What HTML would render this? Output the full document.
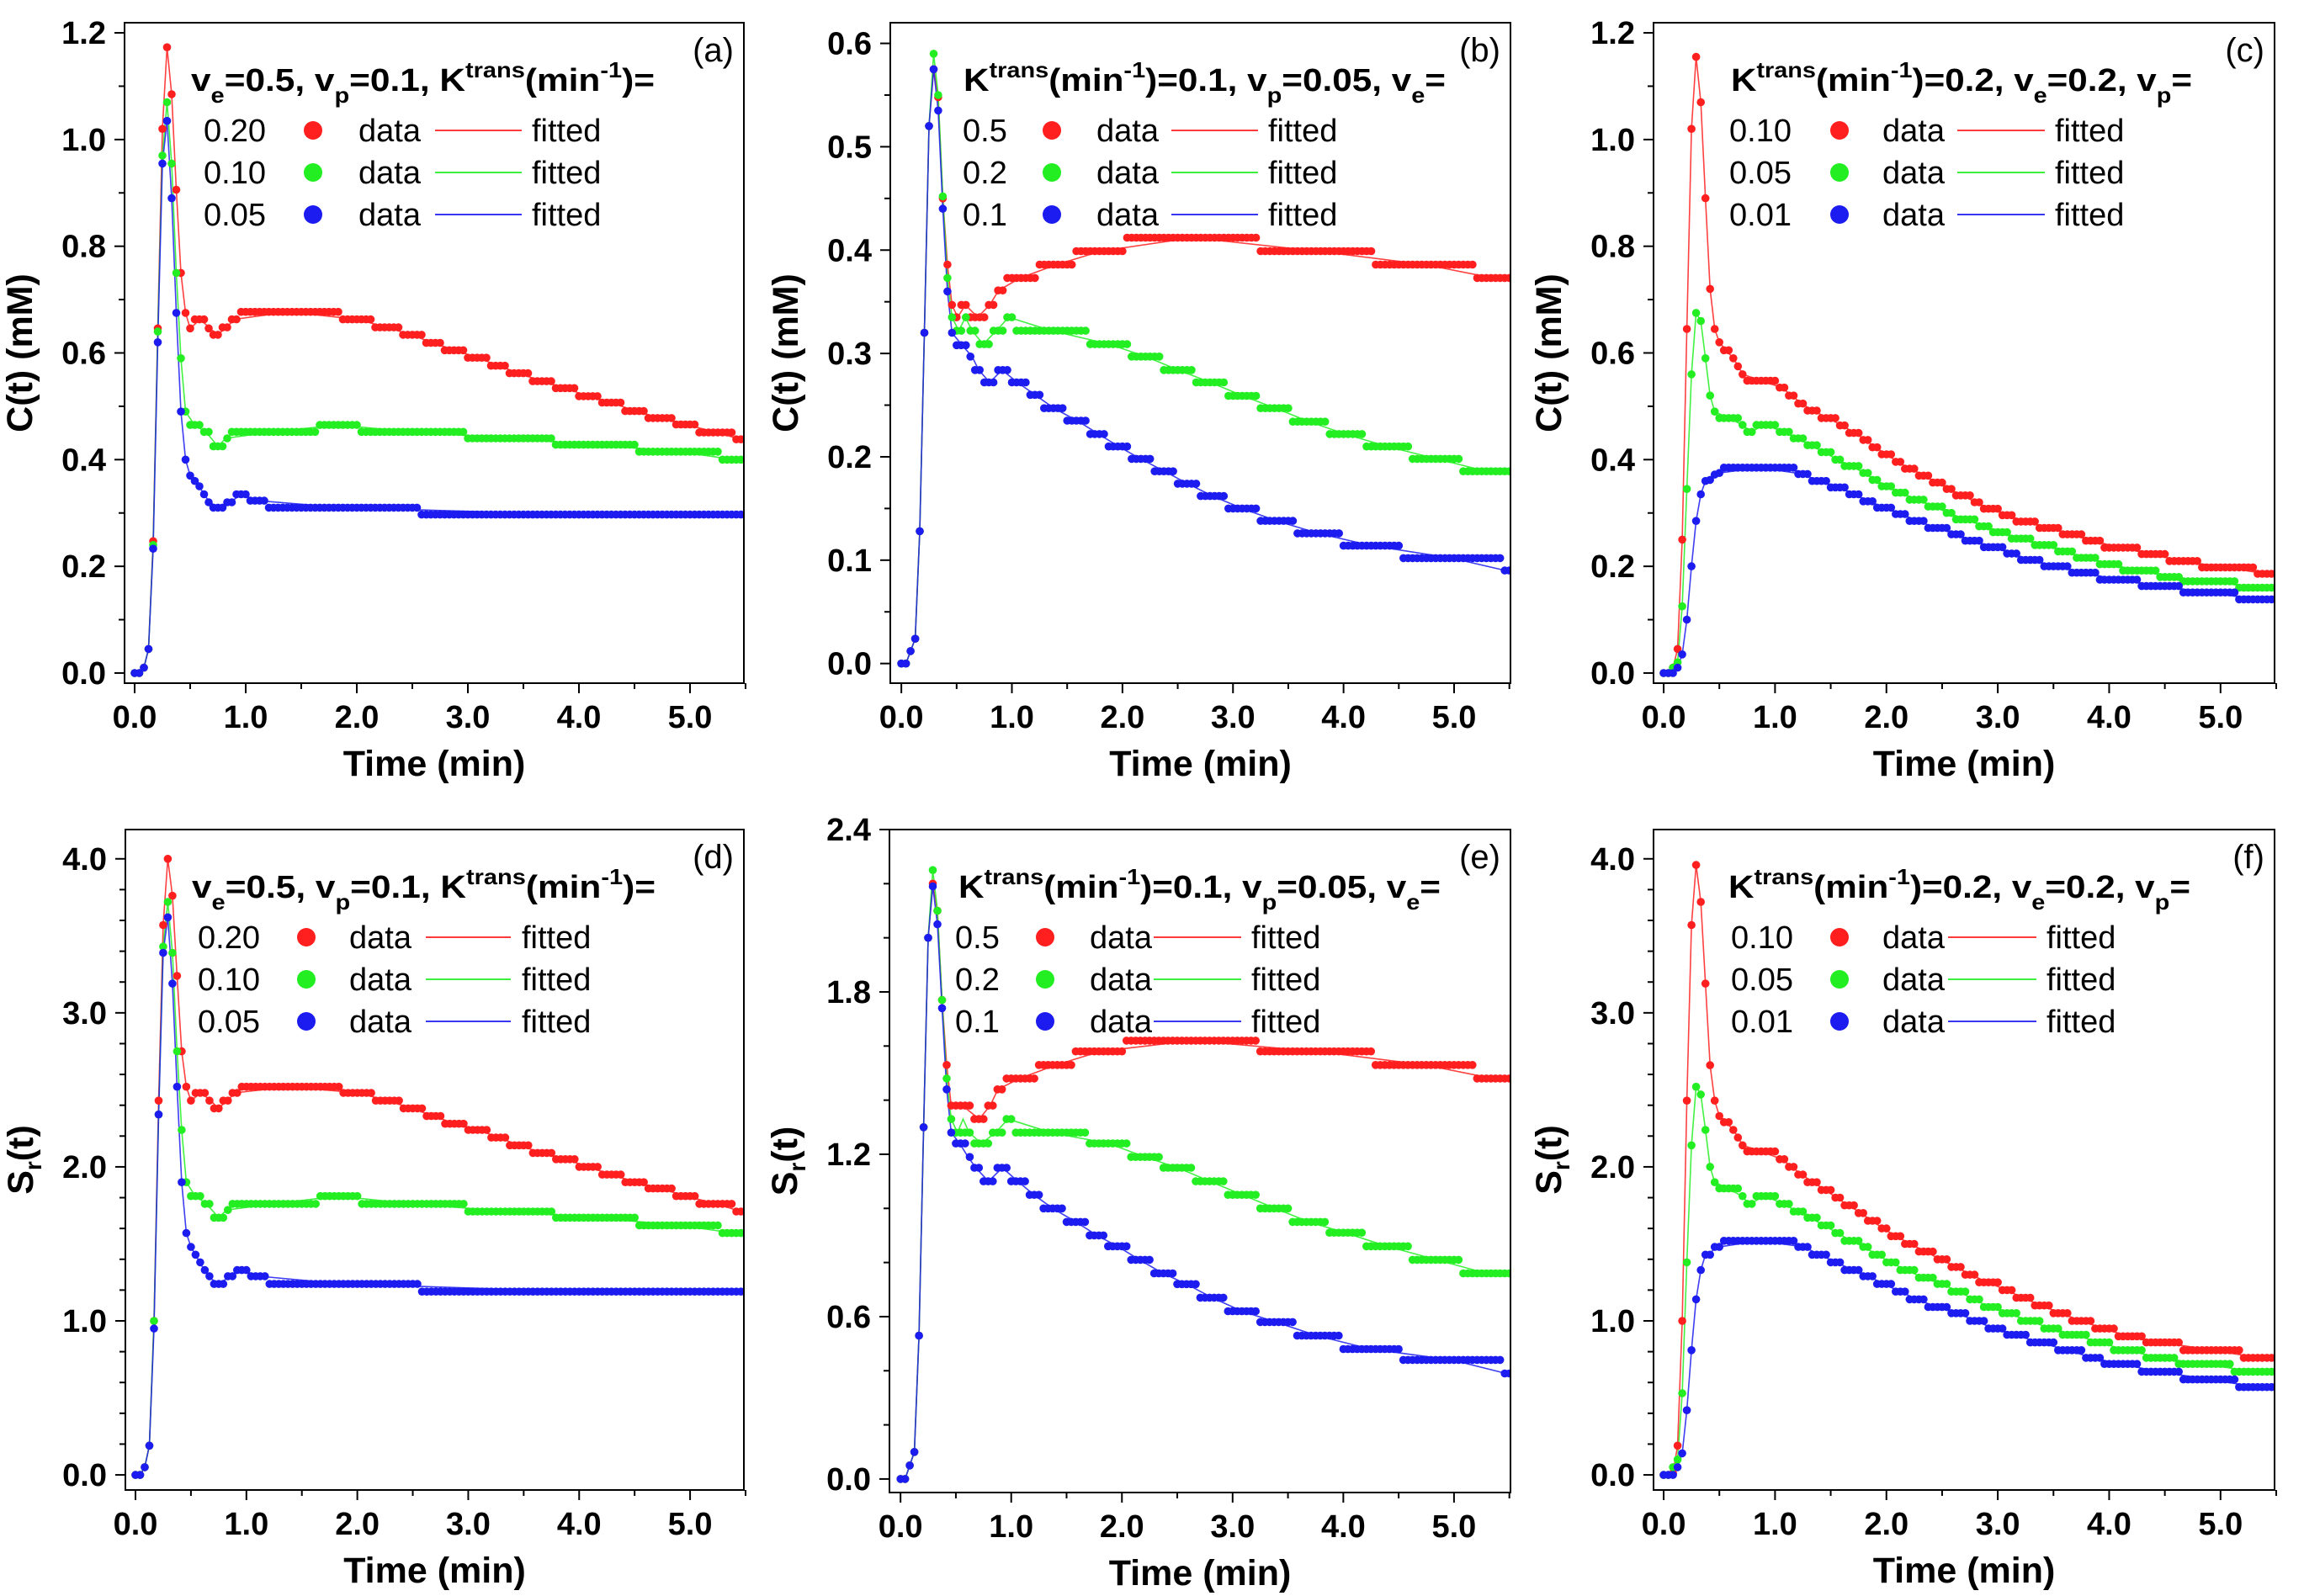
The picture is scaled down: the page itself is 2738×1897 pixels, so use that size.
<!DOCTYPE html>
<html><head><meta charset="utf-8"><style>
html,body{margin:0;padding:0;background:#fff}
svg{display:block}
text{font-family:"Liberation Sans",Arial,sans-serif}
</style></head><body>
<svg id="fig" xmlns="http://www.w3.org/2000/svg" width="2738" height="1897" viewBox="0 0 2738 1897"></svg>
<script>
const NS="http://www.w3.org/2000/svg";
const svg=document.getElementById('fig');
const DT=1/24, TMAX=5.5;
// ---------- data (early samples at t=i/24, then plateau steps [value,endTime]) ----------
const aRedEarly=[0,0,.01,.045,.247,.646,1.02,1.173,1.085,.906,.75,.675,.646];
const aRedSteps=[[.663,.66],[.646,.7],[.634,.79],[.648,.87],[.663,.92],[.677,1.86],[.663,2.15],[.648,2.39],[.634,2.59],[.619,2.78],[.605,2.99],[.591,3.19],[.576,3.36],[.562,3.56],[.547,3.77],[.534,3.98],[.519,4.18],[.507,4.4],[.491,4.62],[.478,4.85],[.466,5.07],[.451,5.41],[.438,5.6]];
const aGreenEarly=[0,0,.01,.045,.24,.64,.97,1.07,.955,.75,.59,.49];
const aGreenSteps=[[.465,.6],[.452,.68],[.44,.7],[.425,.8],[.44,.84],[.452,1.64],[.465,2.02],[.452,2.97],[.44,3.76],[.428,4.52],[.415,5.29],[.40,5.6]];
const aBlueEarly=[0,0,.01,.045,.233,.62,.955,1.035,.89,.675,.49,.40,.37];
const aBlueSteps=[[.36,.56],[.35,.6],[.335,.65],[.32,.7],[.31,.82],[.32,.9],[.335,1.02],[.323,1.2],[.31,2.55],[.297,5.6]];

const bRedEarly=[0,0,.012,.024,.128,.32,.52,.575,.548,.45,.386,.347];
const bRedSteps=[[.335,.54],[.347,.62],[.335,.76],[.347,.84],[.361,.92],[.373,1.23],[.386,1.58],[.399,2.03],[.412,3.24],[.399,4.28],[.386,5.2],[.373,5.6]];
const bGreenEarly=[0,0,.012,.024,.128,.32,.52,.59,.55,.452,.373,.335];
const bGreenSteps=[[.322,.56],[.335,.6],[.322,.68],[.309,.8],[.322,.92],[.335,1.02],[.322,1.70],[.309,2.06],[.297,2.36],[.284,2.65],[.272,2.94],[.259,3.24],[.247,3.53],[.234,3.85],[.222,4.18],[.21,4.61],[.198,5.08],[.186,5.6]];
const bBlueEarly=[0,0,.012,.024,.128,.32,.52,.575,.535,.44,.36,.32];
const bBlueSteps=[[.308,.62],[.297,.66],[.284,.74],[.272,.86],[.284,.96],[.272,1.14],[.26,1.28],[.247,1.48],[.235,1.7],[.222,1.87],[.21,2.06],[.198,2.27],[.186,2.49],[.174,2.69],[.162,2.94],[.15,3.23],[.138,3.56],[.126,3.98],[.114,4.53],[.102,5.43],[.09,5.6]];

const cRedEarly=[0,0,.01,.045,.25,.645,1.02,1.155,1.07,.89,.72,.645,.62];
const cRedSteps=[[.605,.6],[.59,.65],[.575,.69],[.56,.73],[.548,1.02],[.535,1.1],[.52,1.2],[.505,1.28],[.492,1.4],[.478,1.55],[.464,1.65],[.45,1.78],[.437,1.85],[.423,1.95],[.41,2.05],[.396,2.15],[.383,2.28],[.37,2.4],[.357,2.5],[.345,2.62],[.333,2.75],[.32,2.85],[.308,3.02],[.296,3.15],[.284,3.35],[.272,3.55],[.26,3.75],[.248,3.95],[.235,4.25],[.223,4.5],[.21,4.8],[.198,5.3],[.186,5.6]];
const cGreenEarly=[0,0,.01,.02,.125,.345,.56,.675,.66,.59,.52,.49];
const cGreenSteps=[[.478,.68],[.465,.74],[.452,.82],[.465,1.0],[.452,1.15],[.44,1.25],[.427,1.38],[.414,1.5],[.40,1.62],[.388,1.75],[.375,1.85],[.362,1.95],[.35,2.05],[.338,2.2],[.325,2.35],[.312,2.5],[.30,2.62],[.288,2.8],[.275,2.95],[.264,3.1],[.252,3.3],[.24,3.5],[.228,3.7],[.216,3.9],[.204,4.1],[.192,4.45],[.18,4.65],[.172,5.15],[.16,5.6]];
const cBlueEarly=[0,0,0,.01,.035,.1,.2,.285,.335,.36,.362,.372,.375];
const cBlueSteps=[[.385,1.2],[.373,1.3],[.36,1.48],[.348,1.65],[.335,1.78],[.322,1.9],[.31,2.08],[.298,2.2],[.285,2.35],[.272,2.55],[.26,2.7],[.248,2.85],[.236,3.05],[.224,3.2],[.212,3.4],[.2,3.65],[.188,3.9],[.175,4.25],[.163,4.65],[.151,5.15],[.138,5.6]];

const dRedEarly=[0,0,.05,.19,1.0,2.43,3.57,4.0,3.76,3.24,2.75,2.52,2.43];
const dRedSteps=[[2.48,.66],[2.43,.7],[2.38,.79],[2.43,.87],[2.48,.92],[2.52,1.86],[2.48,2.15],[2.43,2.39],[2.38,2.59],[2.33,2.78],[2.28,2.99],[2.24,3.19],[2.19,3.36],[2.14,3.56],[2.09,3.77],[2.05,3.98],[2.0,4.18],[1.95,4.4],[1.9,4.62],[1.86,4.85],[1.81,5.07],[1.76,5.41],[1.71,5.6]];
const dGreenEarly=[0,0,.05,.19,1.0,2.34,3.43,3.72,3.39,2.75,2.24,1.9];
const dGreenSteps=[[1.81,.6],[1.76,.68],[1.72,.7],[1.67,.8],[1.72,.84],[1.76,1.64],[1.81,2.02],[1.76,2.97],[1.71,3.76],[1.67,4.52],[1.62,5.29],[1.57,5.6]];
const dBlueEarly=[0,0,.05,.19,.95,2.34,3.39,3.62,3.19,2.52,1.9,1.57,1.48];
const dBlueSteps=[[1.43,.56],[1.38,.6],[1.33,.64],[1.29,.67],[1.24,.82],[1.29,.9],[1.33,1.02],[1.29,1.2],[1.24,2.55],[1.19,5.6]];

const eRedEarly=[0,0,.05,.1,.53,1.3,2.0,2.2,2.1,1.77,1.53,1.38];
const eRedSteps=[[1.38,.64],[1.33,.78],[1.38,.84],[1.44,.92],[1.48,1.23],[1.53,1.58],[1.58,2.03],[1.62,3.24],[1.58,4.28],[1.53,5.2],[1.48,5.6]];
const eGreenEarly=[0,0,.05,.1,.53,1.3,2.0,2.25,2.1,1.77,1.48,1.33];
const eGreenSteps=[[1.28,.55],[1.33,.58],[1.28,.66],[1.24,.8],[1.28,.92],[1.33,1.02],[1.28,1.70],[1.24,2.06],[1.19,2.36],[1.15,2.65],[1.1,2.94],[1.05,3.24],[1.0,3.53],[.95,3.85],[.91,4.18],[.86,4.61],[.81,5.08],[.76,5.6]];
const eBlueEarly=[0,0,.05,.1,.53,1.3,2.0,2.19,2.05,1.74,1.44,1.28];
const eBlueSteps=[[1.24,.59],[1.19,.63],[1.15,.73],[1.10,.86],[1.15,.98],[1.10,1.14],[1.05,1.27],[1.0,1.48],[.95,1.69],[.90,1.86],[.86,2.06],[.81,2.26],[.76,2.48],[.72,2.69],[.67,2.94],[.62,3.23],[.58,3.55],[.53,3.97],[.48,4.52],[.44,5.44],[.39,5.6]];

const fRedEarly=[0,0,.01,.19,1.0,2.43,3.57,3.96,3.72,3.19,2.66,2.43,2.33];
const fRedSteps=[[2.29,.6],[2.24,.65],[2.19,.69],[2.14,.73],[2.1,1.02],[2.05,1.1],[2.0,1.2],[1.95,1.28],[1.9,1.4],[1.85,1.5],[1.8,1.6],[1.75,1.72],[1.7,1.82],[1.65,1.92],[1.6,2.02],[1.55,2.15],[1.5,2.28],[1.45,2.42],[1.4,2.55],[1.35,2.7],[1.3,2.82],[1.25,3.0],[1.2,3.15],[1.15,3.3],[1.1,3.48],[1.05,3.65],[1.0,3.85],[.95,4.05],[.9,4.3],[.86,4.65],[.81,5.2],[.76,5.6]];
const fGreenEarly=[0,0,.05,.1,.53,1.38,2.14,2.52,2.47,2.24,2.0,1.9];
const fGreenSteps=[[1.86,.68],[1.81,.72],[1.76,.82],[1.81,1.0],[1.76,1.15],[1.71,1.25],[1.67,1.38],[1.62,1.5],[1.57,1.62],[1.52,1.75],[1.48,1.85],[1.43,1.98],[1.38,2.1],[1.33,2.25],[1.28,2.42],[1.24,2.58],[1.19,2.72],[1.14,2.85],[1.09,3.0],[1.05,3.18],[1.0,3.38],[.95,3.58],[.91,3.8],[.86,4.02],[.81,4.3],[.76,4.6],[.72,5.1],[.67,5.6]];
const fBlueEarly=[0,0,0,.05,.14,.42,.81,1.14,1.33,1.43,1.43,1.48,1.48];
const fBlueSteps=[[1.52,1.2],[1.48,1.32],[1.43,1.48],[1.38,1.62],[1.33,1.78],[1.29,1.9],[1.24,2.05],[1.19,2.2],[1.14,2.35],[1.09,2.55],[1.05,2.72],[1.0,2.88],[.95,3.05],[.91,3.25],[.86,3.5],[.81,3.75],[.76,3.95],[.72,4.25],[.67,4.65],[.62,5.15],[.57,5.6]];

const xTicks=[0,1,2,3,4,5];
const xTickLabels=["0.0","1.0","2.0","3.0","4.0","5.0"];
const legA=["0.20","0.10","0.05"], legB=["0.5","0.2","0.1"], legC=["0.10","0.05","0.01"];
const COLORS=["#ff1f1f","#22ee22","#1c1cf0"];

function el(tag,attrs,parent){const e=document.createElementNS(NS,tag);for(const k in attrs)e.setAttribute(k,attrs[k]);(parent||svg).appendChild(e);return e;}

const panels=[
 {id:'a',L:148,T:27,R:884,B:812,x0:-0.091,x1:5.485,y0:-0.019,y1:1.219,yMaj:.2,yMin:.1,yMax:1.2,ylab:'C',series:[[aRedEarly,aRedSteps],[aGreenEarly,aGreenSteps],[aBlueEarly,aBlueSteps]],leg:legA,title:1,tw:551,lt:{tx:79,num:94,dot:224,data:278,l1:369,l2:472,fit:484}},
 {id:'b',L:1058,T:27,R:1795,B:812,x0:-0.1,x1:5.51,y0:-0.019,y1:0.62,yMaj:.1,yMin:.05,yMax:.6,ylab:'C',series:[[bRedEarly,bRedSteps],[bGreenEarly,bGreenSteps],[bBlueEarly,bBlueSteps]],leg:legB,title:2,tw:573,lt:{tx:87,num:86,dot:192,data:245,l1:334,l2:437,fit:449}},
 {id:'c',L:1965,T:27,R:2703,B:812,x0:-0.091,x1:5.485,y0:-0.019,y1:1.219,yMaj:.2,yMin:.1,yMax:1.2,ylab:'C',series:[[cRedEarly,cRedSteps],[cGreenEarly,cGreenSteps],[cBlueEarly,cBlueSteps]],leg:legC,title:3,tw:548,lt:{tx:92,num:90,dot:221,data:272,l1:361,l2:465,fit:477}},
 {id:'d',L:149,T:986,R:884,B:1771,x0:-0.091,x1:5.485,y0:-0.098,y1:4.19,yMaj:1,yMin:.2,yMax:4,ylab:'S',series:[[dRedEarly,dRedSteps],[dGreenEarly,dGreenSteps],[dBlueEarly,dBlueSteps]],leg:legA,title:1,tw:551,lt:{tx:79,num:86,dot:215,data:266,l1:357,l2:458,fit:471}},
 {id:'e',L:1057,T:986,R:1795,B:1774,x0:-0.1,x1:5.51,y0:-0.05,y1:2.40,yMaj:.6,yMin:.2,yMax:2.4,ylab:'S',series:[[eRedEarly,eRedSteps],[eGreenEarly,eGreenSteps],[eBlueEarly,eBlueSteps]],leg:legB,title:2,tw:573,lt:{tx:82,num:78,dot:185,data:238,l1:314,l2:418,fit:430}},
 {id:'f',L:1965,T:986,R:2703,B:1771,x0:-0.091,x1:5.485,y0:-0.098,y1:4.19,yMaj:1,yMin:.2,yMax:4,ylab:'S',series:[[fRedEarly,fRedSteps],[fGreenEarly,fGreenSteps],[fBlueEarly,fBlueSteps]],leg:legC,title:3,tw:549,lt:{tx:89,num:92,dot:221,data:272,l1:350,l2:455,fit:467}}
];

function buildPoints(early,steps){
  const pts=[];const n=Math.round(TMAX/DT);
  for(let i=0;i<=n;i++){
    const t=i*DT;let v;
    if(i<early.length)v=early[i];
    else{v=steps[steps.length-1][0];for(const s of steps){if(t<=s[1]+1e-9){v=s[0];break;}}}
    pts.push([t,v]);
  }
  return pts;
}
function buildFit(early,steps){
  const pts=[];for(let i=0;i<early.length;i++)pts.push([i*DT,early[i]]);
  let prev=(early.length-0.5)*DT;
  for(const s of steps){const e=Math.min(s[1],TMAX);if(e<=prev)continue;pts.push([(prev+e)/2,s[0]]);prev=e;}
  pts.push([TMAX,steps[steps.length-1][0]]);
  return pts;
}

function addTitle(g,p,x,y){
  const t=el('text',{x:x,y:y,'font-size':38,'font-weight':'bold',fill:'#000',textLength:p.tw,lengthAdjust:'spacingAndGlyphs'},g);
  
  
  const parts=[];
  if(p.title===1)parts.push(['v'],['e','sub'],['=0.5, v'],['p','sub'],['=0.1, K'],['trans','sup'],['(min'],['-1','sup'],[')=']);
  else if(p.title===2)parts.push(['K'],['trans','sup'],['(min'],['-1','sup'],[')=0.1, v'],['p','sub'],['=0.05, v'],['e','sub'],['=']);
  else parts.push(['K'],['trans','sup'],['(min'],['-1','sup'],[')=0.2, v'],['e','sub'],['=0.2, v'],['p','sub'],['=']);
  let shift=0;
  for(const [s,k] of parts){
    const ts=el('tspan',{},t);
    let dy=0,fs=38;
    if(k==='sub'){dy=14-shift;shift=14;fs=26;}else if(k==='sup'){dy=-16-shift;shift=-16;fs=26;}else{dy=-shift;shift=0;}
    ts.setAttribute('dy',dy);ts.setAttribute('font-size',fs);ts.textContent=s;
  }
}

for(const p of panels){
  const g=el('g',{});
  
  
  const X=t=>p.L+(t-p.x0)/(p.x1-p.x0)*(p.R-p.L);
  const Y=v=>p.B-(v-p.y0)/(p.y1-p.y0)*(p.B-p.T);
  const cp=el('clipPath',{id:'clip'+p.id},g);
  el('rect',{x:p.L,y:p.T,width:p.R-p.L,height:p.B-p.T},cp);
  const sg=el('g',{'clip-path':'url(#clip'+p.id+')'},g);
  p.series.forEach((s,si)=>{
    const fit=buildFit(s[0],s[1]);
    const pl=el('polyline',{points:fit.map(q=>X(q[0]).toFixed(1)+','+Y(q[1]).toFixed(1)).join(' '),fill:'none',stroke:COLORS[si],'stroke-width':1.6,opacity:.85},sg);
    
    
  });
  p.series.forEach((s,si)=>{
    const pts=buildPoints(s[0],s[1]);
    const dg=el('g',{fill:COLORS[si]},sg);
    
    
    for(const q of pts){
      const c=el('circle',{cx:X(q[0]).toFixed(1),cy:Y(q[1]).toFixed(1),r:4.8},dg);
      
      
    }
  });
  const fr=el('rect',{x:p.L,y:p.T,width:p.R-p.L,height:p.B-p.T,fill:'none',stroke:'#000','stroke-width':2},g);
  
  
  for(let t=0;t<=5.5+1e-9;t+=0.5){
    const maj=Math.abs(t-Math.round(t))<1e-6;
    el('line',{x1:X(t),x2:X(t),y1:p.B,y2:p.B+(maj?12:7),stroke:'#000','stroke-width':2},g);
  }
  xTicks.forEach((t,i)=>{
    const tx=el('text',{x:X(t),y:p.B+53,'font-size':38,'font-weight':'bold','text-anchor':'middle'},g);
    
    
    tx.textContent=xTickLabels[i];
  });
  const nMin=Math.round(p.yMax/p.yMin);
  for(let k=0;k<=nMin;k++){
    const v=k*p.yMin;const ratio=v/p.yMaj;const maj=Math.abs(ratio-Math.round(ratio))<1e-6;
    el('line',{x1:p.L,x2:p.L-(maj?12:7),y1:Y(v),y2:Y(v),stroke:'#000','stroke-width':2},g);
    if(maj){
      const tx=el('text',{x:p.L-22,y:Y(v)+13,'font-size':38,'font-weight':'bold','text-anchor':'end'},g);
      
      
      tx.textContent=v.toFixed(1);
    }
  }
  const xt=el('text',{x:(p.L+p.R)/2,y:p.B+110,'font-size':43,'font-weight':'bold','text-anchor':'middle'},g);
  
  
  xt.textContent='Time (min)';
  const cy=(p.T+p.B)/2, cx=p.L-110;
  const yt=el('text',{x:cx,y:cy,'font-size':43,'font-weight':'bold','text-anchor':'middle',transform:'rotate(-90 '+cx+' '+cy+')'},g);
  
  
  if(p.ylab==='C'){yt.textContent='C(t) (mM)';}
  else{const a=el('tspan',{},yt);a.textContent='S';const b=el('tspan',{dy:10,'font-size':28},yt);b.textContent='r';const c=el('tspan',{dy:-10},yt);c.textContent='(t)';}
  const pl=el('text',{x:p.R-12,y:p.T+46,'font-size':40,'text-anchor':'end'},g);
  
  
  pl.textContent='('+p.id+')';
  const lt=p.lt;
  addTitle(g,p,p.L+lt.tx,p.T+81);
  const rowsY=[141,191,241];
  for(let r=0;r<3;r++){
    const by=p.T+rowsY[r];
    const lg=el('g',{},g);
    
    
    const n=el('text',{x:p.L+lt.num,y:by,'font-size':38},lg);n.textContent=p.leg[r];
    el('circle',{cx:p.L+lt.dot,cy:by-13,r:11,fill:COLORS[r]},lg);
    const d=el('text',{x:p.L+lt.data,y:by,'font-size':38},lg);d.textContent='data';
    el('line',{x1:p.L+lt.l1,x2:p.L+lt.l2,y1:by-13,y2:by-13,stroke:COLORS[r],'stroke-width':1.8},lg);
    const f=el('text',{x:p.L+lt.fit,y:by,'font-size':38},lg);f.textContent='fitted';
  }
}
</script>
</body></html>
